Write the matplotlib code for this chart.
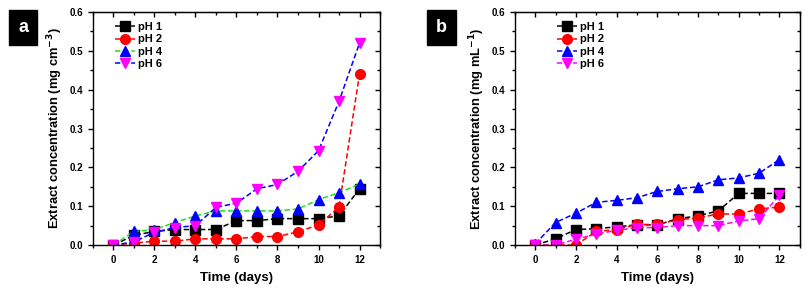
import numpy as np
import matplotlib.pyplot as plt
from matplotlib.ticker import MultipleLocator

plt.rcParams['font.family'] = ['Liberation Sans', 'DejaVu Sans']
plt.rcParams['font.weight'] = 'bold'

days = [0, 1, 2, 3, 4, 5, 6, 7, 8, 9, 10, 11, 12]

# panel a (mg cm-3)
a_ph1 = [0, 0.025, 0.035, 0.04, 0.04, 0.04, 0.063, 0.063, 0.068, 0.068, 0.068, 0.075, 0.145]
a_ph2 = [0, 0.005, 0.01, 0.01, 0.016, 0.016, 0.016, 0.022, 0.022, 0.034, 0.052, 0.098, 0.44]
a_ph4 = [0, 0.035, 0.04, 0.058, 0.075, 0.088, 0.088, 0.088, 0.088, 0.093, 0.117, 0.135, 0.157]
a_ph6 = [0, 0.008, 0.033, 0.045, 0.05, 0.097, 0.108, 0.145, 0.156, 0.19, 0.243, 0.37, 0.52]

# panel b (mg mL-1)
b_ph1 = [0, 0.016, 0.04, 0.042, 0.047, 0.052, 0.052, 0.068, 0.075, 0.088, 0.133, 0.133, 0.133]
b_ph2 = [0, 0.0, 0.0, 0.035, 0.04, 0.053, 0.053, 0.065, 0.07, 0.08, 0.08, 0.093, 0.098]
b_ph4 = [0.003, 0.058, 0.082, 0.11, 0.115, 0.122, 0.138, 0.145, 0.15, 0.168, 0.173, 0.185, 0.22]
b_ph6 = [0, 0.0, 0.015, 0.028, 0.038, 0.045, 0.045, 0.05, 0.05, 0.05, 0.062, 0.068, 0.128]

labels = ['pH 1', 'pH 2', 'pH 4', 'pH 6']
markers = ['s', 'o', '^', 'v']
mcolors = ['black', 'red', 'blue', 'magenta']
lcolors_a = ['black', 'red', '#22dd22', 'blue']
lcolors_b = ['black', 'red', 'blue', 'magenta']

fig = plt.figure(figsize=(8.07, 2.9), dpi=100)
ax_a = fig.add_axes([0.1152, 0.155, 0.3557, 0.8034])
ax_b = fig.add_axes([0.638, 0.155, 0.353, 0.8034])


def draw(ax, series, lcolors, ylabel):
    for y, lab, m, mc, lc in zip(series, labels, markers, mcolors, lcolors):
        ax.plot(days, y, linestyle=(0, (3.5, 1.8)), color=lc, linewidth=1.1,
                marker=m, markersize=7, markerfacecolor=mc, markeredgecolor=mc,
                label=lab)
    ax.set_xlim(-1, 13)
    ax.set_ylim(0, 0.6)
    ax.xaxis.set_major_locator(MultipleLocator(2))
    ax.xaxis.set_minor_locator(MultipleLocator(1))
    ax.yaxis.set_major_locator(MultipleLocator(0.1))
    ax.yaxis.set_minor_locator(MultipleLocator(0.05))
    ax.tick_params(axis='both', which='both', direction='out', labelsize=7, width=1)
    ax.tick_params(which='major', length=3.5)
    ax.tick_params(which='minor', length=2)
    ax.yaxis.set_major_formatter(plt.FormatStrFormatter('%.1f'))
    for t in ax.get_xticklabels() + ax.get_yticklabels():
        t.set_fontweight('bold')
    # inward ticks on top and right
    top = ax.secondary_xaxis('top')
    top.xaxis.set_major_locator(MultipleLocator(2))
    top.xaxis.set_minor_locator(MultipleLocator(1))
    top.tick_params(which='both', direction='in', labeltop=False, width=1)
    top.tick_params(which='major', length=3.5)
    top.tick_params(which='minor', length=2)
    right = ax.secondary_yaxis('right')
    right.yaxis.set_major_locator(MultipleLocator(0.1))
    right.yaxis.set_minor_locator(MultipleLocator(0.05))
    right.tick_params(which='both', direction='in', labelright=False, width=1)
    right.tick_params(which='major', length=3.5)
    right.tick_params(which='minor', length=2)
    for s in ax.spines.values():
        s.set_linewidth(1)
    ax.set_xlabel('Time (days)', fontsize=9.5, fontweight='bold', labelpad=5)
    ax.set_ylabel(ylabel, fontsize=9.3, fontweight='bold', labelpad=3)
    ax.legend(loc='upper left', bbox_to_anchor=(0.05, 0.99), frameon=False,
              handlelength=1.8, handletextpad=0.3, labelspacing=0.2,
              borderaxespad=0.3, prop={'weight': 'bold', 'size': 8})


draw(ax_a, [a_ph1, a_ph2, a_ph4, a_ph6], lcolors_a, 'Extract concentration (mg cm$^{\\mathbf{-3}}$)')
draw(ax_b, [b_ph1, b_ph2, b_ph4, b_ph6], lcolors_b, 'Extract concentration (mg mL$^{\\mathbf{-1}}$)')
ax_b.get_legend().set_bbox_to_anchor((0.12, 0.99))

fig.text(0.029, 0.905, 'a', color='white', fontsize=13, fontweight='bold', ha='center', va='center',
         bbox=dict(boxstyle='square,pad=0.5', facecolor='black', edgecolor='black'))
fig.text(0.547, 0.905, 'b', color='white', fontsize=13, fontweight='bold', ha='center', va='center',
         bbox=dict(boxstyle='square,pad=0.5', facecolor='black', edgecolor='black'))

plt.savefig('out.png', dpi=100)
